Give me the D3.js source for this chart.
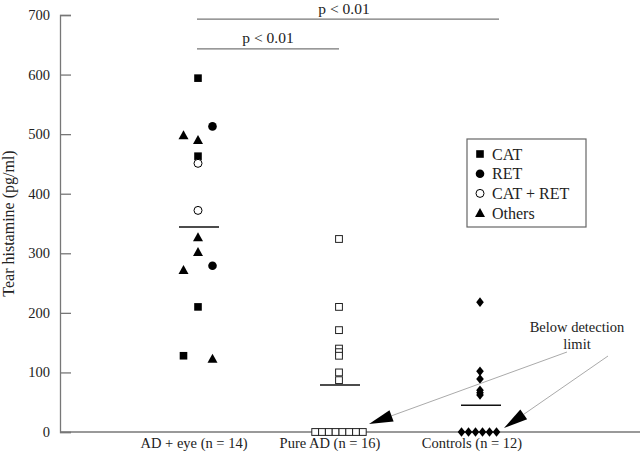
<!DOCTYPE html>
<html>
<head>
<meta charset="utf-8">
<script src="https://cdn.jsdelivr.net/npm/d3@7"></script>
<style>
  body { margin: 0; background: #fff; }
  text { font-family: "Liberation Serif", "DejaVu Serif", serif; fill: #222; }
</style>
</head>
<body>
<script>
const width = 640, height = 454

// groups and values
const groups = ['AD + eye (n = 14)', 'Pure AD (n = 16)', 'Controls (n = 12)']
const yTicks = [0, 100, 200, 300, 400, 500, 600, 700]

// AD + eye: value, marker type, column slot (-1 left, 0 middle, 1 right)
const adEyeValues = [594, 463, 210, 128, 513, 279, 451, 372, 498, 490, 327, 302, 272, 123]
const adEyeTypes  = ['cat', 'cat', 'cat', 'cat', 'ret', 'ret', 'both', 'both',
                     'other', 'other', 'other', 'other', 'other', 'other']
const adEyeSlots  = [0, 0, 0, -1, 1, 1, 0, 0, -1, 0, 0, 0, -1, 1]

const pureAdValues = [324, 210, 171, 140, 134, 128, 100, 87]
const pureAdZeros = 8
const controlValues = [218, 102, 89, 70, 66, 62]
const controlZeros = 6

const means = [344, 79, 45]

const legendLabels = ['CAT', 'RET', 'CAT + RET', 'Others']
const legendTypes = ['cat', 'ret', 'both', 'other']

const sigLabels = ['p < 0.01', 'p < 0.01']
const sigPairs = [[0, 2], [0, 1]]
const sigLevels = [693, 643]

const svg = d3.select('body').append('svg').attr('width', width).attr('height', height)

const x = d3.scalePoint().domain(groups).range([198, 480])
const y = d3.scaleLinear().domain([0, 700]).range([432, 15])
const slot = d3.scaleLinear().domain([-1, 1]).range([-14.5, 14.5])
const grey = '#777'

// y axis
const yAxis = svg.append('g').attr('transform', 'translate(60,0)')
  .call(d3.axisRight(y).tickValues(yTicks).tickSize(11).tickFormat(''))
yAxis.select('.domain').attr('stroke', grey).attr('stroke-width', 1.3)
yAxis.selectAll('.tick line').attr('stroke', grey).attr('stroke-width', 1.3)
svg.append('g').selectAll('text').data(yTicks).join('text')
  .attr('x', 50).attr('y', d => y(d) + 5)
  .attr('text-anchor', 'end').style('font-size', '14.5px').text(d => d)

svg.append('text')
  .attr('transform', `translate(14,${(y(0) + y(700)) / 2}) rotate(-90)`)
  .attr('text-anchor', 'middle').style('font-size', '16px')
  .text('Tear histamine (pg/ml)')

// x axis line (no ticks)
svg.append('line').attr('x1', 60).attr('x2', width).attr('y1', y(0)).attr('y2', y(0))
  .attr('stroke', grey).attr('stroke-width', 1.3)

const labelShift = [-4, -9, -8]
svg.append('g').selectAll('text').data(groups).join('text')
  .attr('x', (d, i) => x(d) + labelShift[i]).attr('y', 448)
  .attr('text-anchor', 'middle').style('font-size', '14.5px').text(d => d)

// markers
function marker(sel, type) {
  if (type === 'cat') {
    sel.append('rect').attr('x', -3.8).attr('y', -3.8).attr('width', 7.6).attr('height', 7.6).attr('fill', '#000')
  } else if (type === 'ret') {
    sel.append('circle').attr('r', 4.3).attr('fill', '#000')
  } else if (type === 'both') {
    sel.append('circle').attr('r', 4).attr('fill', '#fff').attr('stroke', '#000').attr('stroke-width', 1)
  } else if (type === 'other') {
    sel.append('path').attr('d', 'M0,-5L5,4L-5,4Z').attr('fill', '#000')
  } else if (type === 'open') {
    sel.append('rect').attr('x', -3.4).attr('y', -3.4).attr('width', 6.8).attr('height', 6.8)
      .attr('fill', '#fff').attr('stroke', '#222').attr('stroke-width', 1)
  } else if (type === 'diamond') {
    sel.append('path').attr('d', 'M0,-4.8L3.8,0L0,4.8L-3.8,0Z').attr('fill', '#000')
  }
}

const adEye = adEyeValues.map((v, i) => ({ v, type: adEyeTypes[i], s: adEyeSlots[i] }))
svg.append('g').selectAll('g').data(adEye).join('g')
  .attr('transform', d => `translate(${x(groups[0]) + slot(d.s)},${y(d.v)})`)
  .each(function (d) { marker(d3.select(this), d.type) })

svg.append('g').selectAll('g').data(pureAdValues).join('g')
  .attr('transform', d => `translate(${x(groups[1])},${y(d)})`)
  .each(function () { marker(d3.select(this), 'open') })

const rowX = (n, i, step) => (i - (n - 1) / 2) * step
svg.append('g').selectAll('g').data(d3.range(pureAdZeros)).join('g')
  .attr('transform', i => `translate(${x(groups[1]) + rowX(pureAdZeros, i, 6.8)},${y(0)})`)
  .each(function () { marker(d3.select(this), 'open') })

svg.append('g').selectAll('g').data(controlValues).join('g')
  .attr('transform', d => `translate(${x(groups[2])},${y(d)})`)
  .each(function () { marker(d3.select(this), 'diamond') })

svg.append('g').selectAll('g').data(d3.range(controlZeros)).join('g')
  .attr('transform', i => `translate(${x(groups[2]) - 1 + rowX(controlZeros, i, 7)},${y(0)})`)
  .each(function () { marker(d3.select(this), 'diamond') })

// mean lines
svg.append('g').selectAll('line').data(means).join('line')
  .attr('x1', (d, i) => x(groups[i]) - 19).attr('x2', (d, i) => x(groups[i]) + 21)
  .attr('y1', d => y(d)).attr('y2', d => y(d))
  .attr('stroke', '#111').attr('stroke-width', 1.5)

// significance bars
sigPairs.forEach((p, i) => {
  const x1 = x(groups[p[0]]) - 1, x2 = x(groups[p[1]]) + (i === 0 ? 19 : 0)
  const yy = y(sigLevels[i])
  svg.append('line').attr('x1', x1).attr('x2', x2).attr('y1', yy).attr('y2', yy)
    .attr('stroke', grey).attr('stroke-width', 1.3)
  svg.append('text').attr('x', i === 0 ? 344 : 268).attr('y', yy - 5.5)
    .attr('text-anchor', 'middle').style('font-size', '15.5px').text(sigLabels[i])
})

// legend
const lg = svg.append('g').attr('transform', 'translate(467,139)')
lg.append('rect').attr('width', 119).attr('height', 88).attr('fill', '#fff')
  .attr('stroke', '#666').attr('stroke-width', 1.2)
legendLabels.forEach((lab, i) => {
  const row = lg.append('g').attr('transform', `translate(13,${15 + i * 19.7})`)
  marker(row, legendTypes[i])
  row.append('text').attr('x', 12).attr('y', 5.5).style('font-size', '16px').text(lab)
})

// below detection limit annotation
svg.append('text').attr('x', 577).attr('y', 332).attr('text-anchor', 'middle')
  .style('font-size', '14.5px').text('Below detection')
svg.append('text').attr('x', 577).attr('y', 349).attr('text-anchor', 'middle')
  .style('font-size', '14.5px').text('limit')

function arrow(x0, y0, x1, y1) {
  const ang = Math.atan2(y1 - y0, x1 - x0)
  const len = 24, half = 6
  const bx = x1 - len * Math.cos(ang), by = y1 - len * Math.sin(ang)
  svg.append('line').attr('x1', x0).attr('y1', y0).attr('x2', bx).attr('y2', by)
    .attr('stroke', '#aaa').attr('stroke-width', 1)
  const px = -Math.sin(ang) * half, py = Math.cos(ang) * half
  svg.append('path')
    .attr('d', `M${x1},${y1}L${bx + px},${by + py}L${bx - px},${by - py}Z`)
    .attr('fill', '#000')
}
arrow(567, 352, 369, 424)
arrow(608, 356, 504, 428)
</script>
</body>
</html>
